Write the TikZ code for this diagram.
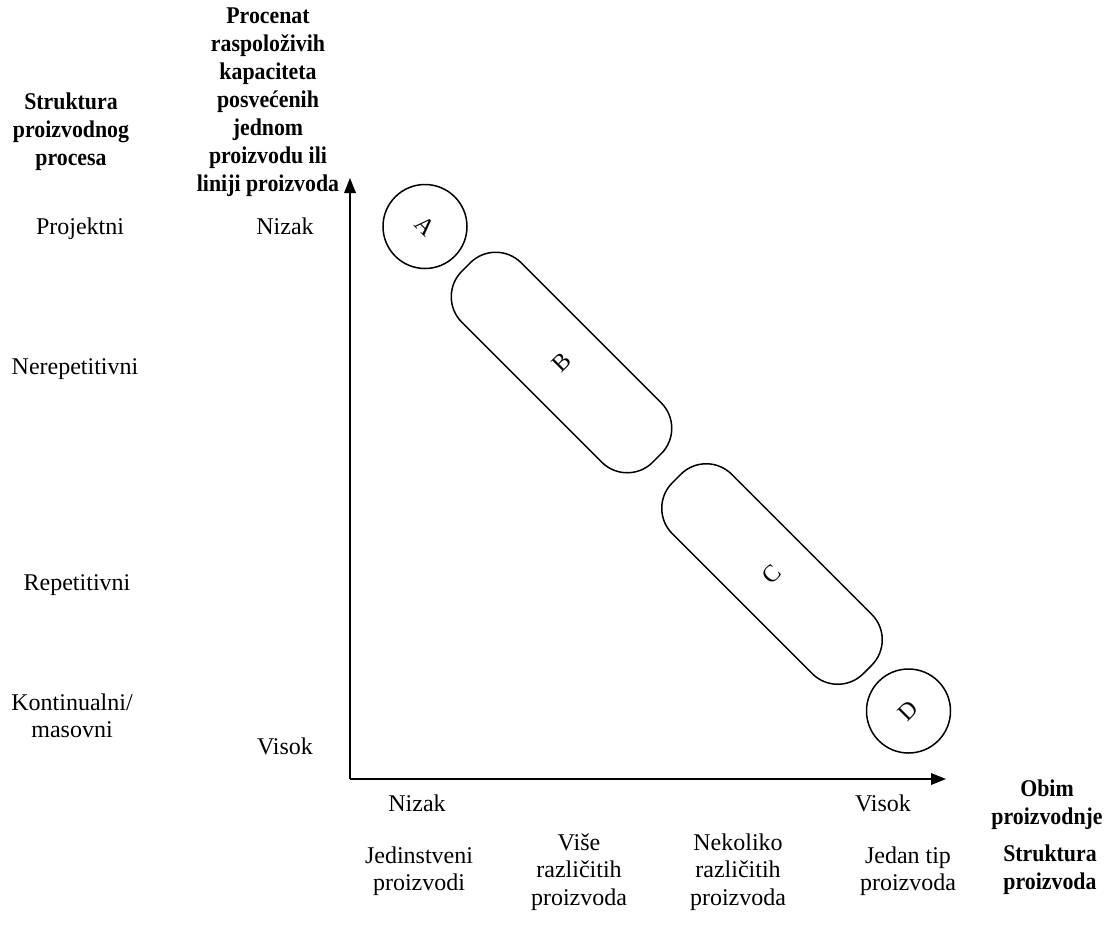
\documentclass[tikz,border=0pt]{standalone}
\usepackage{fontspec}
\setmainfont{Liberation Serif}[BoldFeatures={FakeStretch=0.91}]
\usetikzlibrary{arrows.meta}
\begin{document}
\begin{tikzpicture}[x=0.5pt,y=-0.5pt,
  every node/.style={inner sep=0pt, outer sep=0pt, font=\fontsize{12}{13.75}\selectfont},
  lbl/.style={align=center},
  head/.style={align=center, font=\fontsize{12}{14}\selectfont\bfseries},
  axis/.style={line width=0.75pt, -{Triangle[length=7.5pt,width=5.8pt]}},
  disc/.style={draw, line width=0.75pt, circle, minimum size=42pt},
  pill/.style={draw, line width=0.75pt, rectangle, rounded corners=18pt,
               minimum width=135pt, minimum height=42pt, rotate=-45}]
\useasboundingbox (0,0) rectangle (1104,934);

% axes
\coordinate (o) at (350,779);
\coordinate (ytip) at (350,178);
\coordinate (xtip) at (946,779);
\draw[axis] (o) -- (ytip);
\draw[axis] (o) -- (xtip);

% groups along the diagonal
\node[disc, rotate=-45] (A) at (425,226.5) {A};
\node[pill] (B) at (561.5,362.5) {\rotatebox{90}{B}};
\node[pill] (C) at (772,574) {\rotatebox{90}{C}};
\node[disc, rotate=45] (D) at (908.5,711) {D};

% left column: process structure
\node[head] (hproc) at (71,132) {Struktura\\proizvodnog\\procesa};
\node[lbl] (p1) at (80,229) {Projektni};
\node[lbl] (p2) at (75,369) {Nerepetitivni};
\node[lbl] (p3) at (77,585) {Repetitivni};
\node[lbl] (p4) at (72,716) {Kontinualni/\\masovni};

% vertical axis
\node[head] (hcap) at (268,102) {Procenat\\raspoloživih\\kapaciteta\\posvećenih\\jednom\\proizvodu ili\\liniji proizvoda};
\node[lbl] (ylo) at (285,226) {Nizak};
\node[lbl] (yhi) at (285,746) {Visok};

% horizontal axis
\node[lbl] (xlo) at (417,803) {Nizak};
\node[lbl] (xhi) at (883,803) {Visok};
\node[head] (hvol) at (1047,805) {Obim\\proizvodnje};

% bottom row: product structure
\node[lbl] (s1) at (419,871) {Jedinstveni\\proizvodi};
\node[lbl] (s2) at (579,872) {Više\\različitih\\proizvoda};
\node[lbl] (s3) at (738,872) {Nekoliko\\različitih\\proizvoda};
\node[lbl] (s4) at (908,871) {Jedan tip\\proizvoda};
\node[head] (hprod) at (1050,870) {Struktura\\proizvoda};
\end{tikzpicture}
\end{document}
